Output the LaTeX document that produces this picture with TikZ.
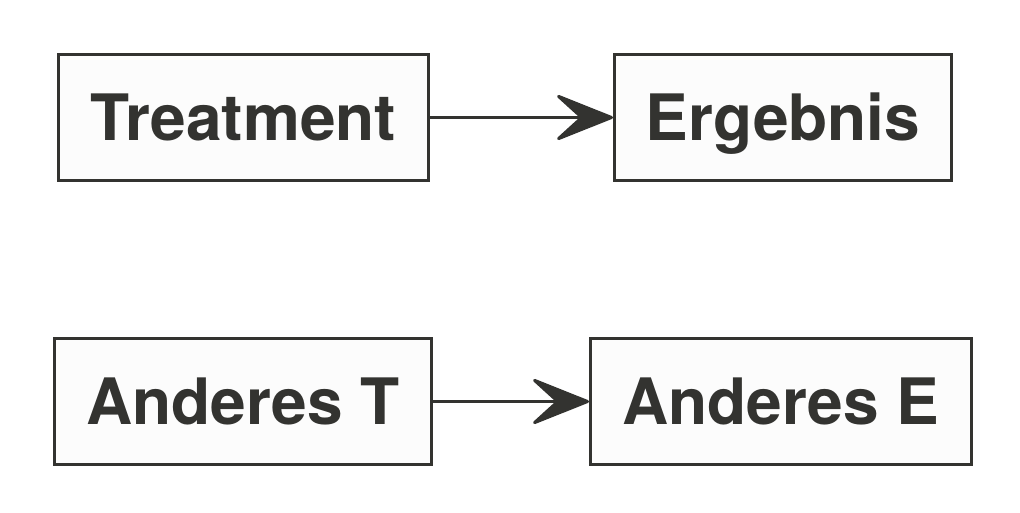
\documentclass[tikz,border=0pt]{standalone}
\usepackage{fontspec}
\setmainfont{TeX Gyre Heros}
\usetikzlibrary{arrows.meta}
\definecolor{ink}{HTML}{333330}
\definecolor{boxfill}{HTML}{FCFCFC}
\tikzset{
  box/.style={draw=ink, fill=boxfill, line width=3pt, text=ink, font=\fontsize{64}{70}\selectfont\bfseries, inner sep=0pt, text height=46pt, text depth=0pt, minimum height=126pt, anchor=north west},
  conn/.style={draw=ink, line width=3pt, -{Stealth[length=64pt, width=51pt, inset=28pt, round]}}
}
\begin{document}
\begin{tikzpicture}[x=1pt,y=-1pt]
\useasboundingbox (0,0) rectangle (1020,512);
\node[box, minimum width=370pt] (t) at (57,53) {Treatment};
\node[box, minimum width=337pt] (e) at (613,53) {Ergebnis};
\node[box, minimum width=377pt] (at) at (53,337) {Anderes T};
\node[box, minimum width=381pt] (ae) at (589,337) {Anderes E};
\draw[conn] (t.east) -- (e.west);
\draw[conn] (at.east) -- (ae.west);
\end{tikzpicture}
\end{document}
